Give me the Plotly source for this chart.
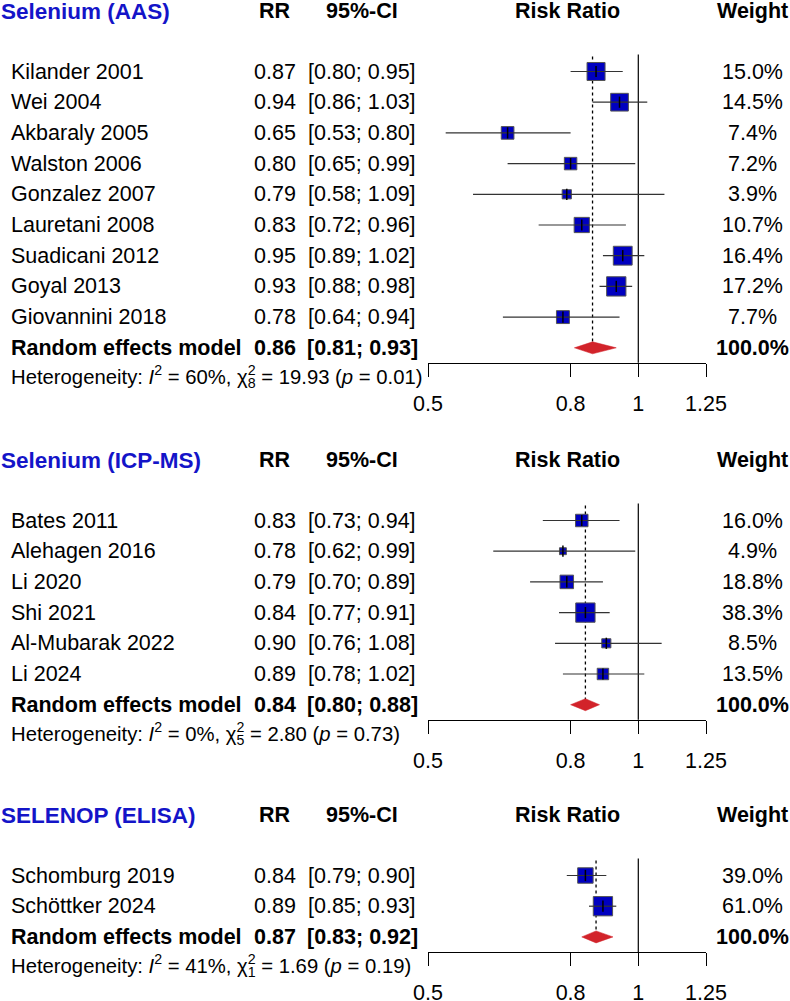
import math
import plotly.graph_objects as go

# ---- data ----
titles = ['Selenium (AAS)', 'Selenium (ICP-MS)', 'SELENOP (ELISA)']

aas_study = ['Kilander 2001', 'Wei 2004', 'Akbaraly 2005', 'Walston 2006', 'Gonzalez 2007',
             'Lauretani 2008', 'Suadicani 2012', 'Goyal 2013', 'Giovannini 2018']
aas_rr = [0.87, 0.94, 0.65, 0.80, 0.79, 0.83, 0.95, 0.93, 0.78]
aas_lo = [0.80, 0.86, 0.53, 0.65, 0.58, 0.72, 0.89, 0.88, 0.64]
aas_hi = [0.95, 1.03, 0.80, 0.99, 1.09, 0.96, 1.02, 0.98, 0.94]
aas_w = [15.0, 14.5, 7.4, 7.2, 3.9, 10.7, 16.4, 17.2, 7.7]

icp_study = ['Bates 2011', 'Alehagen 2016', 'Li 2020', 'Shi 2021', 'Al-Mubarak 2022', 'Li 2024']
icp_rr = [0.83, 0.78, 0.79, 0.84, 0.90, 0.89]
icp_lo = [0.73, 0.62, 0.70, 0.77, 0.76, 0.78]
icp_hi = [0.94, 0.99, 0.89, 0.91, 1.08, 1.02]
icp_w = [16.0, 4.9, 18.8, 38.3, 8.5, 13.5]

eli_study = ['Schomburg 2019', 'Schöttker 2024']
eli_rr = [0.84, 0.89]
eli_lo = [0.79, 0.85]
eli_hi = [0.90, 0.93]
eli_w = [39.0, 61.0]

# random effects model: estimate, lower, upper
pooled_rr = [0.86, 0.84, 0.87]
pooled_lo = [0.81, 0.80, 0.83]
pooled_hi = [0.93, 0.88, 0.92]

# heterogeneity: I2 (%), chi2, df, p
het_i2 = [60, 0, 41]
het_chi2 = [19.93, 2.80, 1.69]
het_df = [8, 5, 1]
het_p = [0.01, 0.73, 0.19]

tick_vals = [0.5, 0.8, 1, 1.25]
tick_text = ['0.5', '0.8', '1', '1.25']

# ---- layout constants (pixels) ----
W, H = 790, 1001
FONT = 'Liberation Sans, Arial, sans-serif'
BLUE = '#1414C8'
RED = '#D2232A'
header_y = [11, 460, 815]
row_gap = 30.7
x_left, x_right = 428, 706

panels = [
    (aas_study, aas_rr, aas_lo, aas_hi, aas_w),
    (icp_study, icp_rr, icp_lo, icp_hi, icp_w),
    (eli_study, eli_rr, eli_lo, eli_hi, eli_w),
]

fig = go.Figure()
annotations = []


def txt(x, y, s, anchor='left', size=21.5, bold=False, color='black'):
    if bold:
        s = '<b>' + s + '</b>'
    annotations.append(dict(x=x / W, y=y, xref='paper', yref='y', text=s, showarrow=False,
                            xanchor=anchor, yanchor='middle', borderpad=0,
                            font=dict(family=FONT, size=size, color=color)))


axis_pos = []
for p, (study, rr, lo, hi, w) in enumerate(panels):
    xa = 'x' if p == 0 else 'x%d' % (p + 1)
    hy = header_y[p]
    first = hy + 60.5
    ys = [first + i * row_gap for i in range(len(study))]
    ry = first + len(study) * row_gap
    ay = ry + 15
    axis_pos.append(ay)

    # headers
    txt(0, hy, titles[p], size=22.5, bold=True, color=BLUE)
    txt(275, hy, 'RR', anchor='center', bold=True)
    txt(362, hy, '95%-CI', anchor='center', bold=True)
    txt((x_left + x_right) / 2, hy, 'Risk Ratio', anchor='center', bold=True)
    txt(752, hy, 'Weight', anchor='center', bold=True)

    # study rows text
    for s, r, l, h, wt, y in zip(study, rr, lo, hi, w, ys):
        txt(10, y, s)
        txt(275, y, '%.2f' % r, anchor='center')
        txt(362, y, '[%.2f; %.2f]' % (l, h), anchor='center')
        txt(752, y, '%.1f%%' % wt, anchor='center')

    # pooled row text
    txt(10, ry, 'Random effects model', bold=True)
    txt(275, ry, '%.2f' % pooled_rr[p], anchor='center', bold=True)
    txt(362, ry, '[%.2f; %.2f]' % (pooled_lo[p], pooled_hi[p]), anchor='center', bold=True)
    txt(752, ry, '%.1f%%' % 100.0, anchor='center', bold=True)

    # heterogeneity line (chi with stacked sup/sub)
    hy2 = ry + 28.5
    prefix = 'Heterogeneity: <i>I</i><sup>2</sup> = %d%%, χ' % het_i2[p]
    rest = '<sub>%d</sub> = %.2f (<i>p</i> = %.2f)' % (het_df[p], het_chi2[p], het_p[p])
    txt(10, hy2, prefix + rest, size=20.3)
    clear = '<span style="color:rgba(0,0,0,0)">'
    txt(10, hy2, clear + prefix + '</span><sup>2</sup>' + clear + rest + '</span>', size=20.3)

    top = first - 17
    # reference line at 1
    fig.add_trace(go.Scatter(x=[1, 1], y=[top, ay], mode='lines', xaxis=xa, yaxis='y',
                             line=dict(color='black', width=1.2), hoverinfo='skip'))
    # dotted line at pooled estimate
    fig.add_trace(go.Scatter(x=[pooled_rr[p], pooled_rr[p]], y=[top + 2, ry], mode='lines',
                             xaxis=xa, yaxis='y',
                             line=dict(color='black', width=1.3, dash='dot'), hoverinfo='skip'))

    # squares sized by weight (area ~ weight)
    wmax = max(w)
    sizes = [19.3 * math.sqrt(v / wmax) for v in w]
    fig.add_trace(go.Scatter(x=rr, y=ys, mode='markers', xaxis=xa, yaxis='y',
                             marker=dict(symbol='square', size=sizes, color='#0000C0', opacity=1,
                                         line=dict(color='#555555', width=1)),
                             hoverinfo='skip'))
    # confidence intervals
    cx, cy = [], []
    for l, h, y in zip(lo, hi, ys):
        cx += [l, h, None]
        cy += [y, y, None]
    fig.add_trace(go.Scatter(x=cx, y=cy, mode='lines', xaxis=xa, yaxis='y',
                             line=dict(color='#333333', width=1.2), hoverinfo='skip'))
    # point estimate ticks
    fig.add_trace(go.Scatter(x=rr, y=ys, mode='markers', xaxis=xa, yaxis='y',
                             marker=dict(symbol='line-ns', size=8, opacity=1,
                                         line=dict(color='black', width=1.5)),
                             hoverinfo='skip'))
    # diamond
    e, l, h = pooled_rr[p], pooled_lo[p], pooled_hi[p]
    fig.add_trace(go.Scatter(x=[l, e, h, e, l], y=[ry, ry - 6, ry, ry + 6, ry], mode='lines',
                             fill='toself', fillcolor=RED, xaxis=xa, yaxis='y',
                             line=dict(color=RED, width=0.5), hoverinfo='skip'))


def xaxis_cfg(pos, over=None):
    d = dict(type='log', range=[math.log10(0.5), math.log10(1.25)],
             domain=[x_left / W, x_right / W], anchor='free', position=1 - pos / H,
             showline=True, linecolor='black', linewidth=1,
             ticks='outside', ticklen=13, tickwidth=1, tickcolor='black',
             tickvals=tick_vals, ticktext=tick_text, ticklabelstandoff=8,
             tickfont=dict(family=FONT, size=21.5, color='black'),
             showgrid=False, zeroline=False, fixedrange=True, automargin=False)
    if over:
        d['overlaying'] = over
    return d


fig.update_layout(
    width=W, height=H,
    margin=dict(l=0, r=0, t=0, b=0, pad=0, autoexpand=False),
    paper_bgcolor='white', plot_bgcolor='white',
    showlegend=False,
    xaxis=xaxis_cfg(axis_pos[0]),
    xaxis2=xaxis_cfg(axis_pos[1], 'x'),
    xaxis3=xaxis_cfg(axis_pos[2], 'x'),
    yaxis=dict(range=[H, 0], domain=[0, 1], visible=False, fixedrange=True),
    annotations=annotations,
)

# drop the default page margin so the figure sits at the window's corner
fig.write_html("out.html", config={'displayModeBar': False},
               post_script="document.body.style.margin='0';document.body.style.overflow='hidden';")
